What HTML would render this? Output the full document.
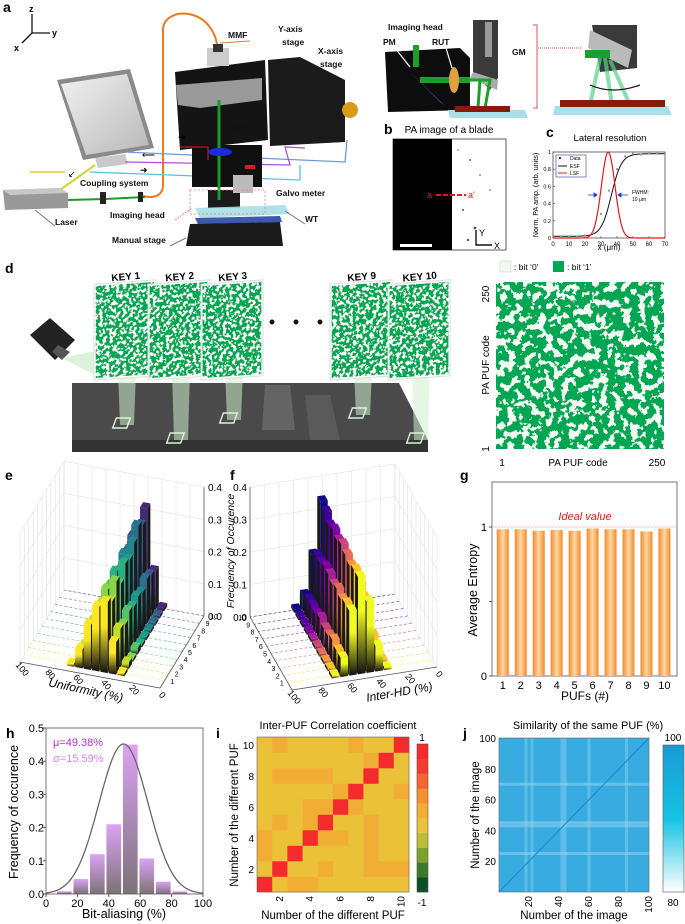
<!DOCTYPE html>
<html><head><meta charset="utf-8"><style>
html,body{margin:0;padding:0;background:#fff}
svg{display:block;font-family:"Liberation Sans",sans-serif}
.pl{font-weight:bold;font-size:14px}
.lb{font-weight:bold;font-size:8.5px;fill:#111}
</style></head><body>
<svg id="fig" width="685" height="924" viewBox="0 0 685 924" xmlns="http://www.w3.org/2000/svg">
<defs>
<filter id="puf" x="0" y="0" width="1" height="1">
<feTurbulence type="fractalNoise" baseFrequency="0.13" numOctaves="3" seed="4" result="n"/>
<feColorMatrix in="n" type="matrix" values="0 0 0 0 0 0 0 0 0 0 0 0 0 0 0 1.1 0 0 0 0" result="a"/>
<feComponentTransfer in="a" result="m"><feFuncA type="discrete" tableValues="0 1"/></feComponentTransfer>
<feFlood flood-color="#00a651" result="g"/>
<feComposite in="g" in2="m" operator="in" result="gb"/>
<feFlood flood-color="#f4fbf2" result="w"/>
<feMerge><feMergeNode in="w"/><feMergeNode in="gb"/></feMerge>
</filter>
<filter id="puf2" x="0" y="0" width="1" height="1">
<feTurbulence type="fractalNoise" baseFrequency="0.3" numOctaves="2" seed="9" result="n"/>
<feColorMatrix in="n" type="matrix" values="0 0 0 0 0 0 0 0 0 0 0 0 0 0 0 1.1 0 0 0 0" result="a"/>
<feComponentTransfer in="a" result="m"><feFuncA type="discrete" tableValues="0 1"/></feComponentTransfer>
<feFlood flood-color="#00a651" result="g"/>
<feComposite in="g" in2="m" operator="in" result="gb"/>
<feFlood flood-color="#ffffff" result="w"/>
<feMerge><feMergeNode in="w"/><feMergeNode in="gb"/></feMerge>
</filter>
<linearGradient id="monG" x1="0" y1="0" x2="1" y2="1"><stop offset="0" stop-color="#f2f2f2"/><stop offset="1" stop-color="#b8b8b8"/></linearGradient>
<linearGradient id="hbar" x1="0" y1="0" x2="0" y2="1"><stop offset="0" stop-color="#dca2f4"/><stop offset="1" stop-color="#7c7278"/></linearGradient>
<linearGradient id="gbar" x1="0" y1="0" x2="1" y2="0"><stop offset="0" stop-color="#f28a2a"/><stop offset="0.5" stop-color="#ffd8a6"/><stop offset="1" stop-color="#f28a2a"/></linearGradient>
<linearGradient id="jcb" x1="0" y1="1" x2="0" y2="0"><stop offset="0" stop-color="#ffffff"/><stop offset="0.5" stop-color="#14c3e2"/><stop offset="1" stop-color="#1a9ad6"/></linearGradient>
</defs>

<!-- ============ PANEL A ============ -->
<g>
<text class="pl" x="3" y="12">a</text>
<g stroke="#111" stroke-width="1.3" fill="none">
<line x1="32" y1="33" x2="32" y2="14"/><line x1="32" y1="33" x2="50" y2="33"/><line x1="32" y1="33" x2="22" y2="43"/>
</g>
<text x="29" y="12" font-size="9" font-weight="bold">z</text><text x="52" y="36" font-size="9" font-weight="bold">y</text><text x="14" y="51" font-size="9" font-weight="bold">x</text>
<path d="M218,55 C218,5 163,5 163,30 L163,185 C163,198 150,198 143,196" fill="none" stroke="#e87b1e" stroke-width="2"/>
<g>
<polygon points="57,80 130,69 154,148 83,160" fill="#8a8a8a"/>
<polygon points="61,84 127,74 149,145 86,155" fill="url(#monG)"/>
<polygon points="95,158 125,154 128,164 98,168" fill="#c9c9c9"/>
</g>
<line x1="95" y1="165" x2="60" y2="190" stroke="#d6d23a" stroke-width="2"/>
<line x1="30" y1="172" x2="65" y2="172" stroke="#d6d23a" stroke-width="1.5"/>
<g fill="none" stroke-width="1.3">
<polyline points="125,152 345,162 347,140" stroke="#6a9ae0"/>
<polyline points="125,162 290,165 285,147 305,148" stroke="#b54ce0"/>
<polyline points="90,172 300,180 300,165" stroke="#4fc9da"/>
</g>
<g>
<polygon points="3,190 60,188 68,193 68,208 5,210" fill="#999"/><polygon points="3,190 60,188 68,193 10,195" fill="#c8c8c8"/>
</g>
<polyline points="68,200 105,199 145,197" stroke="#1a9a2a" stroke-width="2" fill="none"/>
<rect x="100" y="192" width="6" height="12" fill="#222"/><rect x="138" y="192" width="5" height="10" fill="#222"/>
<g>
<polygon points="175,72 265,60 268,140 180,150" fill="#141414"/>
<polygon points="176,85 262,78 262,100 200,108 178,105" fill="#9a9a9a"/>
<polygon points="268,60 300,57 345,80 345,142 270,146" fill="#1b1b1b"/>
<circle cx="350" cy="110" r="8" fill="#d99a1a"/>
<rect x="207" y="48" width="22" height="18" fill="#ccc"/><rect x="213" y="44" width="10" height="8" fill="#333"/>
<rect x="192" y="145" width="70" height="42" fill="#101010"/>
<rect x="208" y="190" width="32" height="18" fill="#1a1a1a"/>
<rect x="233" y="175" width="20" height="18" fill="#bbb"/>
<line x1="219" y1="100" x2="219" y2="200" stroke="#1a9a2a" stroke-width="3"/>
<ellipse cx="220" cy="152" rx="12" ry="4" fill="#1a2ae0"/>
<rect x="245" y="165" width="10" height="4" fill="#e01a1a"/>
<polygon points="195,208 285,205 290,214 200,218" fill="#a8dfe8" opacity="0.9"/>
<polygon points="195,218 280,216 282,222 198,224" fill="#3a5ab0"/>
<polygon points="190,224 280,222 283,246 186,246" fill="#1b1b1b"/>
</g>
<polyline points="180,147 208,147 208,160" stroke="#e01a1a" fill="none" stroke-width="1"/>
<rect x="190" y="190" width="75" height="24" fill="none" stroke="#f08080" stroke-dasharray="2,2" stroke-width="0.8"/>
<g>
<text class="lb" x="228" y="38">MMF</text><line x1="220" y1="43" x2="250" y2="41" stroke="#e87b1e"/>
<text class="lb" x="278" y="32">Y-axis</text><text class="lb" x="282" y="45">stage</text>
<text class="lb" x="318" y="54">X-axis</text><text class="lb" x="320" y="67">stage</text>
<text class="lb" x="230" y="131">AMP</text><text class="lb" x="235" y="159">OL</text>
<text class="lb" x="80" y="186">Coupling system</text>
<text class="lb" x="276" y="196">Galvo meter</text>
<text class="lb" x="55" y="225">Laser</text><line x1="35" y1="210" x2="55" y2="226" stroke="#777"/>
<text class="lb" x="110" y="218">Imaging head</text><line x1="175" y1="220" x2="192" y2="208" stroke="#f08080" stroke-dasharray="2,1"/>
<text class="lb" x="305" y="222">WT</text><line x1="285" y1="211" x2="305" y2="224" stroke="#777"/>
<text class="lb" x="112" y="243">Manual stage</text><line x1="170" y1="246" x2="186" y2="238" stroke="#777"/>
<text x="178" y="140" font-size="9">➜</text><text x="142" y="158" font-size="9">⟵</text><text x="140" y="173" font-size="9">➜</text><text x="68" y="177" font-size="9">↙</text>
</g>
<g>
<text class="lb" x="388" y="30" font-size="8.5">Imaging head</text>
<polygon points="385,52 460,48 470,58 470,110 388,112" fill="#0d0d0d"/>
<polygon points="405,67 440,102 445,106 410,72" fill="#5a5ae0"/>
<rect x="413" y="45" width="6" height="22" fill="#1aa02a"/>
<rect x="420" y="77" width="50" height="6" fill="#1aa02a"/>
<ellipse cx="454" cy="80" rx="5" ry="13" fill="#e0a040"/>
<text class="lb" x="383" y="45">PM</text><text class="lb" x="432" y="45">RUT</text>
<line x1="395" y1="48" x2="410" y2="67" stroke="#fff" stroke-width="1.2"/><line x1="446" y1="48" x2="452" y2="68" stroke="#fff" stroke-width="1.2"/>
<polygon points="473,20 498,20 498,78 490,90 473,72" fill="#3a3a3a"/>
<rect x="485" y="22" width="7" height="35" fill="#999"/>
<polygon points="473,72 498,80 497,90 470,78" fill="#aaa"/>
<text class="lb" x="512" y="55">GM</text>
<path d="M470,80 L490,80 L485,108 M480,80 L478,108" stroke="#1aa02a" stroke-width="3" fill="none"/>
<polygon points="448,110 525,110 528,118 450,118" fill="#a8dfe8"/>
<rect x="455" y="106" width="55" height="6" fill="#8a1a0a"/>
<path d="M533,25 L537,25 L537,108 L533,108" fill="none" stroke="#e05050"/>
<line x1="538" y1="48" x2="582" y2="48" stroke="#e05050" stroke-dasharray="1,1"/>
<polygon points="592,25 637,25 637,68 600,72" fill="#3a3a3a"/>
<polygon points="590,30 632,50 628,68 588,48" fill="#bbb"/>
<rect x="585" y="50" width="25" height="8" fill="#1aa02a"/>
<path d="M600,58 L590,105 M605,58 L612,105 M610,60 L630,105" stroke="#5ad08a" stroke-width="4" opacity="0.7" fill="none"/>
<path d="M590,85 Q612,95 640,85" stroke="#111" fill="none" stroke-width="1.2"/>
<polygon points="555,106 668,106 672,115 553,115" fill="#a8dfe8"/>
<rect x="560" y="100" width="105" height="7" fill="#8a1a0a"/>
</g>
</g>

<!-- ============ PANEL B ============ -->
<g>
<text class="pl" x="384" y="134">b</text>
<text x="449" y="133" font-size="10" text-anchor="middle">PA image of a blade</text>
<rect x="393" y="139" width="113" height="111" fill="#fff" stroke="#333" stroke-width="0.8"/>
<rect x="393" y="139" width="59" height="111" fill="#000"/>
<g fill="#555"><circle cx="470" cy="160" r="1"/><circle cx="480" cy="175" r="0.8"/><circle cx="463" cy="210" r="1"/><circle cx="475" cy="228" r="1.4"/><circle cx="490" cy="190" r="0.8"/><circle cx="468" cy="240" r="1.2"/><circle cx="458" cy="150" r="0.7"/></g>
<line x1="436" y1="195" x2="466" y2="195" stroke="#e01a1a" stroke-width="2" stroke-dasharray="5,2"/>
<text x="427" y="198" font-size="9" fill="#e01a1a">a</text><text x="468" y="198" font-size="9" fill="#e01a1a">a'</text>
<rect x="400" y="244" width="32" height="3" fill="#fff"/>
<path d="M476,230 L476,245 L492,245" stroke="#111" fill="none" stroke-width="1.4"/>
<text x="479" y="236" font-size="9">Y</text><text x="494" y="249" font-size="9">X</text>
</g>

<!-- ============ PANEL C ============ -->
<g id="panelC">
<text class="pl" x="546" y="137">c</text>
<text x="610" y="141" font-size="9.5" text-anchor="middle">Lateral resolution</text>
</g>

<!-- ============ PANEL D ============ -->
<g>
<text class="pl" x="5" y="273">d</text>
<polygon points="72,383 399,383 428,440 72,440" fill="#4a4a4a"/>
<polygon points="72,440 428,440 428,452 72,452" fill="#333"/>
<polygon points="265,385 290,385 295,430 262,430" fill="#777" opacity="0.6"/>
<polygon points="305,395 330,395 340,440 310,440" fill="#666" opacity="0.6"/>
<g><polygon points="30,335 50,318 75,340 55,360" fill="#222"/><polygon points="58,345 70,352 62,360 52,352" fill="#555"/></g>
<polygon points="62,358 100,350 100,378" fill="#b8e6b8" opacity="0.5"/>
<g id="keys"></g>
<g fill="#111"><circle cx="272" cy="322" r="2.5"/><circle cx="296" cy="322" r="2.5"/><circle cx="320" cy="322" r="2.5"/></g>
<rect x="500" y="261" width="11" height="11" fill="#f1f9ee" stroke="#ccc" stroke-width="0.5"/>
<text x="514" y="270" font-size="8.5">: bit ‘0’</text>
<rect x="553" y="261" width="11" height="11" fill="#00a651"/>
<text x="567" y="270" font-size="8.5">: bit ‘1’</text>
<rect x="496" y="282" width="168" height="167" filter="url(#puf)"/>
<text x="0" y="0" font-size="10" transform="translate(489,294) rotate(-90)" text-anchor="middle">250</text>
<text x="0" y="0" font-size="10" transform="translate(489,449) rotate(-90)" text-anchor="middle">1</text>
<text x="0" y="0" font-size="10" transform="translate(489,365) rotate(-90)" text-anchor="middle">PA PUF code</text>
<text x="502" y="466" font-size="10" text-anchor="middle">1</text>
<text x="578" y="466" font-size="10" text-anchor="middle">PA PUF code</text>
<text x="657" y="466" font-size="10" text-anchor="middle">250</text>
</g>

<g id="panelE"><text class="pl" x="5" y="480">e</text></g>
<g id="panelF"><text class="pl" x="230" y="480">f</text></g>
<g id="panelG"><text class="pl" x="460" y="480">g</text></g>
<g id="panelH"><text class="pl" x="6" y="738">h</text></g>
<g id="panelI"><text class="pl" x="216" y="738">i</text>
<text x="338" y="729" font-size="11" text-anchor="middle">Inter-PUF Correlation coefficient</text></g>
<g id="panelJ"><text class="pl" x="463" y="738">j</text>
<text x="588" y="729" font-size="11" text-anchor="middle">Similarity of the same PUF (%)</text></g>
</svg>

<script>
// ---------- DATA ----------
const keyLabels = ["KEY 1","KEY 2","KEY 3","KEY 9","KEY 10"];
const cX = [0,5,10,15,20,25,30,35,40,45,50,55,60,65,70];
const cData = [0.02,0.02,0.02,0.02,0.03,0.06,0.28,0.55,0.8,0.95,0.98,0.97,0.98,0.98,0.98];
const cTicksX = [0,10,20,30,40,50,60,70];
const cTicksY = [0,0.2,0.4,0.6,0.8,1];
const eBins = [30,36,42,48,54,60,66];
const eRows = [1,2,3,4,5,6,7,8,9,10];
const eValues = [
 [0.01,0.1,0.22,0.2,0.14,0.06,0.01],
 [0.02,0.12,0.2,0.19,0.13,0.05,0.0],
 [0.01,0.11,0.24,0.21,0.12,0.05,0.01],
 [0.02,0.13,0.21,0.2,0.13,0.04,0.0],
 [0.01,0.12,0.25,0.22,0.11,0.04,0.01],
 [0.01,0.13,0.24,0.2,0.12,0.04,0.0],
 [0.01,0.12,0.27,0.23,0.11,0.03,0.0],
 [0.01,0.14,0.3,0.22,0.1,0.03,0.0],
 [0.01,0.13,0.28,0.24,0.11,0.03,0.0],
 [0.01,0.12,0.31,0.23,0.09,0.02,0.0]
];
const fBins = [32,38,44,50,56,62,68];
const fValues = [
 [0.01,0.08,0.22,0.3,0.2,0.06,0.01],
 [0.01,0.09,0.21,0.3,0.2,0.06,0.01],
 [0.01,0.08,0.23,0.29,0.19,0.07,0.01],
 [0.01,0.09,0.22,0.3,0.2,0.06,0.01],
 [0.01,0.08,0.23,0.31,0.19,0.06,0.01],
 [0.01,0.09,0.21,0.3,0.2,0.07,0.01],
 [0.01,0.08,0.22,0.31,0.2,0.06,0.01],
 [0.01,0.09,0.23,0.3,0.19,0.06,0.01],
 [0.01,0.08,0.22,0.32,0.19,0.06,0.01],
 [0.01,0.09,0.23,0.33,0.17,0.05,0.01]
];
const eColors = ["#fde725","#c2df23","#86d549","#52c569","#2ab07f","#1e9b8a","#25858e","#2d708e","#38588c","#46287a"];
const fColors = ["#f0f921","#fdc328","#f89441","#e56b5d","#cb4679","#a82296","#7e03a8","#5c01a6","#3a049a","#0d0887"];
const zTicks = [0,0.1,0.2,0.3,0.4];
const uTicks = [0,20,40,60,80,100];
const gPUFs = [1,2,3,4,5,6,7,8,9,10];
const gEntropy = [0.985,0.985,0.975,0.98,0.975,0.99,0.985,0.985,0.97,0.99];
const hCenters = [12,22.5,33,43.5,54,64.5,75,85.5];
const hFreq = [0.008,0.045,0.12,0.21,0.45,0.107,0.037,0.008];
const hMu = 49.38, hSigma = 15.59, hPeak = 0.452;
const hTicksX = [0,20,40,60,80,100];
const hTicksY = [0,0.1,0.2,0.3,0.4,0.5];
const iBase = -0.05, iHigh = 0.15;
const iOrange = [[10,2],[10,7],[9,8],[8,2],[8,3],[8,4],[8,5],[7,6],[7,10],[6,4],[6,5],[6,7],[5,2],[5,4],[5,8],[4,1],[4,5],[4,6],[4,8],[3,1],[3,8],[2,5],[2,8],[2,9],[2,10],[1,3],[1,4]];
const iLevels = ["#0b4f26","#3f7a2c","#7ea02f","#bcbd38","#ebc137","#f2ae34","#f78f31","#f6652e","#f43c2d","#f42a2c"];
const jLightCols = [18,22,42,44,60,85];
const jLightRows = [43,45,70,25];
const jTicks = [20,40,60,80,100];

const NS="http://www.w3.org/2000/svg";
function mk(parent,tag,attrs,text){const e=document.createElementNS(NS,tag);for(const k in attrs)e.setAttribute(k,attrs[k]);if(text!==undefined)e.textContent=text;parent.appendChild(e);return e;}
const defs=document.querySelector('defs');

// ---------- KEYS ----------
const keys=document.getElementById('keys');
const keyX=[96,150,203,332,390];
keyLabels.forEach((k,i)=>{
  const x=keyX[i];
  const beam=mk(keys,'polygon',{points:`${x+22},370 ${x+40},370 ${x+38},${[425,440,420,415,440][i]} ${x+24},${[425,440,420,415,440][i]}`,fill:'#cfeecf',opacity:'0.55'});
  
  
  const fr=mk(keys,'rect',{x:x-2,y:284,width:62,height:96,fill:'#fff',stroke:'#ddd',transform:`skewY(-4) translate(0,${x*0.07})`});
  
  
  const im=mk(keys,'rect',{x:x,y:286,width:58,height:92,filter:'url(#puf2)',transform:`skewY(-4) translate(0,${x*0.07})`});
  
  
  const sq=mk(keys,'rect',{x:x+22,y:[418,433,413,408,433][i],width:14,height:10,fill:'none',stroke:'#d8f5d8','stroke-width':1.5,transform:`skewX(-20) translate(${[418,433,413,408,433][i]*0.36},0)`});
  
  
  const t=mk(keys,'text',{x:x+30,y:280,'font-size':10,'font-weight':'bold','text-anchor':'middle',transform:`rotate(-5 ${x+30} 280)`},k);
  
  
});

// ---------- PANEL C ----------
(function(){
 const g=document.getElementById('panelC');
 const x0=553,x1=665,y0=238,y1=152;
 const X=v=>x0+(v-0)/70*(x1-x0), Y=v=>y0-(v)*(y0-y1);
 mk(g,'rect',{x:x0,y:y1,width:x1-x0,height:y0-y1,fill:'none',stroke:'#333','stroke-width':0.7});
 cTicksX.forEach(t=>{mk(g,'line',{x1:X(t),x2:X(t),y1:y0,y2:y0-2,stroke:'#333','stroke-width':0.6});const tt=mk(g,'text',{x:X(t),y:y0+8,'font-size':6,'text-anchor':'middle'},t);});
 cTicksY.forEach(t=>{mk(g,'line',{x1:x0,x2:x0+2,y1:Y(t),y2:Y(t),stroke:'#333','stroke-width':0.6});const tt=mk(g,'text',{x:x0-2,y:Y(t)+2,'font-size':5.5,'text-anchor':'end'},t);});
 let esf='',lsf='';
 for(let v=0;v<=70;v+=0.5){const e=0.02+0.96/(1+Math.exp(-(v-36.5)/3.2));esf+=(v?'L':'M')+X(v)+','+Y(e);const l=Math.exp(-Math.pow(v-34.5,2)/(2*4.25*4.25));lsf+=(v?'L':'M')+X(v)+','+Y(l);}
 const pe=mk(g,'path',{d:esf,fill:'none',stroke:'#111','stroke-width':1});
 const pl=mk(g,'path',{d:lsf,fill:'none',stroke:'#e01a1a','stroke-width':1.2});
 cX.forEach((v,i)=>{const p=mk(g,'rect',{x:X(v)-1,y:Y(cData[i])-1,width:2,height:2,fill:'#999'});});
 mk(g,'rect',{x:556,y:155,width:30,height:22,fill:'#fff',stroke:'#2a3a9a','stroke-width':0.6});
 mk(g,'rect',{x:559,y:157,width:2,height:2,fill:'#2a3a9a'});mk(g,'text',{x:570,y:160,'font-size':5},'Data');
 mk(g,'line',{x1:558,x2:567,y1:166,y2:166,stroke:'#111'});mk(g,'text',{x:570,y:168,'font-size':5},'ESF');
 mk(g,'line',{x1:558,x2:567,y1:173,y2:173,stroke:'#e01a1a'});mk(g,'text',{x:570,y:175,'font-size':5},'LSF');
 mk(g,'path',{d:'M588,195 L597,195 M597,195 l-3,-2 v4z M618,195 L628,195 M618,195 l3,-2 v4z',stroke:'#1a3ae0',fill:'#1a3ae0','stroke-width':0.8});
 mk(g,'text',{x:632,y:194,'font-size':5},'FWHM:');mk(g,'text',{x:632,y:201,'font-size':5},'10 μm');
 mk(g,'text',{x:609,y:250,'font-size':8,'text-anchor':'middle'},'x (μm)');
 mk(g,'text',{x:0,y:0,'font-size':7.2,'text-anchor':'middle',transform:'translate(538,195) rotate(-90)'},'Norm. PA amp. (arb. units)');
})();

// ---------- 3D BARS ----------
function bars3d(g,bins,values,colors,P,sideAtLow,prefix){
 colors.forEach((c,i)=>{const lg=mk(defs,'linearGradient',{id:prefix+'g'+i,x1:0,y1:0,x2:0,y2:1});mk(lg,'stop',{offset:0,'stop-color':c});mk(lg,'stop',{offset:0.35,'stop-color':c});mk(lg,'stop',{offset:1,'stop-color':'#111'});});
 for(let r=values.length-1;r>=0;r--){
  const row=r+1;
  const a=P(0,row,0),b=P(100,row,0);
  mk(g,'line',{x1:a[0],y1:a[1],x2:b[0],y2:b[1],stroke:colors[r],'stroke-width':0.6,'stroke-dasharray':'3,2',opacity:0.8});
  let order=bins.map((b,j)=>j);
  if(sideAtLow) order.reverse();
  order.forEach(j=>{
   const v=values[r][j]; if(v<=0) return;
   const u0=bins[j]-2.6,u1=bins[j]+2.6,rf=row-0.35,rb=row+0.35;
   const pts=a=>a.map(p=>p.join(',')).join(' ');
   const us=sideAtLow?u0:u1;
   mk(g,'polygon',{points:pts([P(us,rf,0),P(us,rb,0),P(us,rb,v),P(us,rf,v)]),fill:'#1a1a1a'});
   mk(g,'polygon',{points:pts([P(u0,rf,v),P(u1,rf,v),P(u1,rb,v),P(u0,rb,v)]),fill:colors[r]});
   const front=mk(g,'polygon',{points:pts([P(u0,rf,0),P(u1,rf,0),P(u1,rf,v),P(u0,rf,v)]),fill:`url(#${prefix}g${r})`});
   
   
  });
 }
}
(function(){
 const g=document.getElementById('panelE');
 const P=(u,r,z)=>[160-1.4*u+4.4*r, 688-0.26*u-7.2*r-z*322];
 for(let u=0;u<=100;u+=10){const a=P(u,10,0),b=P(u,10,0.4);mk(g,'line',{x1:a[0],y1:a[1],x2:b[0],y2:b[1],stroke:'#e2e2e2','stroke-width':0.6});}
 for(let r=0;r<=10;r+=1){const a=P(100,r,0),b=P(100,r,0.4);mk(g,'line',{x1:a[0],y1:a[1],x2:b[0],y2:b[1],stroke:'#e2e2e2','stroke-width':0.6});}
 zTicks.forEach(z=>{const a=P(0,10,z),b=P(100,10,z),c=P(100,0,z);mk(g,'polyline',{points:`${a} ${b} ${c}`,fill:'none',stroke:'#e2e2e2','stroke-width':0.6});});
 const za=P(0,10,0),zb=P(0,10,0.4);mk(g,'line',{x1:za[0],y1:za[1],x2:zb[0],y2:zb[1],stroke:'#555','stroke-width':0.8});
 zTicks.forEach(z=>{const p=P(0,10,z);const t=mk(g,'text',{x:p[0]+4,y:p[1]+4,'font-size':10},z.toFixed(1));});
 const fa=P(0,0,0),fb=P(100,0,0),fc=P(0,10,0);
 mk(g,'polyline',{points:`${fb} ${fa} ${fc}`,fill:'none',stroke:'#555','stroke-width':0.8});
 bars3d(g,eBins,eValues,eColors,P,true,'e');
 uTicks.forEach(u=>{const p=P(u,0,0);const t=mk(g,'text',{x:p[0],y:p[1]+9,'font-size':9,'text-anchor':'middle',transform:`rotate(50 ${p[0]} ${p[1]+9})`},u);});
 eRows.forEach(r=>{const p=P(0,r,0);const t=mk(g,'text',{x:p[0]+6,y:p[1]+3,'font-size':7},r);});
 const tt=mk(g,'text',{x:85,y:694,'font-size':12,'font-style':'italic','text-anchor':'middle',transform:'rotate(12 85 694)'},'Uniformity (%)');
 
})();
(function(){
 const g=document.getElementById('panelF');
 const P=(u,r,z)=>[292+1.45*(100-u)-4.2*r, 690-0.23*(100-u)-7.3*r-z*325];
 for(let u=0;u<=100;u+=10){const a=P(u,10,0),b=P(u,10,0.4);mk(g,'line',{x1:a[0],y1:a[1],x2:b[0],y2:b[1],stroke:'#e2e2e2','stroke-width':0.6});}
 for(let r=0;r<=10;r+=1){const a=P(0,r,0),b=P(0,r,0.4);mk(g,'line',{x1:a[0],y1:a[1],x2:b[0],y2:b[1],stroke:'#e2e2e2','stroke-width':0.6});}
 zTicks.forEach(z=>{const a=P(100,10,z),b=P(0,10,z),c=P(0,0,z);mk(g,'polyline',{points:`${a} ${b} ${c}`,fill:'none',stroke:'#e2e2e2','stroke-width':0.6});});
 const za=P(100,10,0),zb=P(100,10,0.4);mk(g,'line',{x1:za[0],y1:za[1],x2:zb[0],y2:zb[1],stroke:'#555','stroke-width':0.8});
 zTicks.forEach(z=>{const p=P(100,10,z);const t=mk(g,'text',{x:p[0]-3,y:p[1]+4,'font-size':10,'text-anchor':'end'},z.toFixed(1));});
 const fa=P(100,0,0),fb=P(0,0,0),fc=P(100,10,0);
 mk(g,'polyline',{points:`${fb} ${fa} ${fc}`,fill:'none',stroke:'#555','stroke-width':0.8});
 bars3d(g,fBins,fValues,fColors,P,false,'f');
 uTicks.forEach(u=>{const p=P(u,0,0);const t=mk(g,'text',{x:p[0],y:p[1]+9,'font-size':9,'text-anchor':'middle',transform:`rotate(50 ${p[0]} ${p[1]+9})`},u);});
 eRows.forEach(r=>{const p=P(100,r,0);const t=mk(g,'text',{x:p[0]-4,y:p[1]+3,'font-size':7,'text-anchor':'end'},r);});
 const tt=mk(g,'text',{x:0,y:0,'font-size':10.5,'font-style':'italic','text-anchor':'middle',transform:'translate(234,551) rotate(-90)'},'Frecuency of Occurence');
 
 const tx=mk(g,'text',{x:400,y:696,'font-size':12,'font-style':'italic','text-anchor':'middle',transform:'rotate(-10 400 696)'},'Inter-HD (%)');
 
})();

// ---------- PANEL G ----------
(function(){
 const g=document.getElementById('panelG');
 const x0=492,x1=677,yb=676,yt=482;
 const Y=v=>yb-v*149, X=i=>x0+(i-0.4)*((x1-x0)/10.3);
 mk(g,'rect',{x:x0,y:yt,width:x1-x0,height:yb-yt,fill:'none',stroke:'#555','stroke-width':0.8});
 mk(g,'line',{x1:x0,x2:x1,y1:Y(1),y2:Y(1),stroke:'#f08080','stroke-width':0.6,'stroke-dasharray':'2,1'});
 const iv=mk(g,'text',{x:585,y:520,'font-size':11,'font-style':'italic',fill:'#e01a1a','text-anchor':'middle'},'Ideal value');
 
 gPUFs.forEach((p,i)=>{
  const b=mk(g,'rect',{x:X(p)-6,y:Y(gEntropy[i]),width:12,height:yb-Y(gEntropy[i]),fill:'url(#gbar)'});
  
  const t=mk(g,'text',{x:X(p),y:yb+13,'font-size':11,'text-anchor':'middle'},p);
  
 });
 [[0,'0'],[0.5,''],[1,'1']].forEach(([v,l])=>{mk(g,'line',{x1:x0-3,x2:x0,y1:Y(v),y2:Y(v),stroke:'#555'});mk(g,'text',{x:x0-5,y:Y(v)+4,'font-size':11,'text-anchor':'end'},l);});
 const yt2=mk(g,'text',{x:0,y:0,'font-size':12.5,'text-anchor':'middle',transform:'translate(477,590) rotate(-90)'},'Average Entropy');
 
 const xt=mk(g,'text',{x:585,y:700,'font-size':12,'text-anchor':'middle'},'PUFs (#)');
 
})();

// ---------- PANEL H ----------
(function(){
 const g=document.getElementById('panelH');
 const x0=46,x1=203,yb=894,yt=728;
 const X=v=>x0+v/100*(x1-x0), Y=v=>yb-v/0.5*(yb-yt);
 hCenters.forEach((c,i)=>{
  const b=mk(g,'rect',{x:X(c-5),y:Y(hFreq[i]),width:X(c+5)-X(c-5)-1,height:yb-Y(hFreq[i]),fill:'url(#hbar)'});
  
 });
 let d='';for(let v=0;v<=100;v+=1){const f=hPeak*Math.exp(-Math.pow(v-hMu,2)/(2*hSigma*hSigma));d+=(v?'L':'M')+X(v).toFixed(1)+','+Y(f).toFixed(1);}
 const c=mk(g,'path',{d:d,fill:'none',stroke:'#666','stroke-width':1.3});
 
 mk(g,'rect',{x:x0,y:yt,width:x1-x0,height:yb-yt,fill:'none',stroke:'#555','stroke-width':0.8});
 hTicksX.forEach(t=>{mk(g,'line',{x1:X(t),x2:X(t),y1:yb,y2:yb+3,stroke:'#555'});const tt=mk(g,'text',{x:X(t),y:yb+13,'font-size':11,'text-anchor':'middle'},t);});
 hTicksY.forEach(t=>{mk(g,'line',{x1:x0-3,x2:x0,y1:Y(t),y2:Y(t),stroke:'#555'});const tt=mk(g,'text',{x:x0-2,y:Y(t)+4,'font-size':11,'text-anchor':'end'},t.toFixed(1));});
 mk(g,'text',{x:53,y:746,'font-size':11,fill:'#b030d0'},'μ=49.38%');
 mk(g,'text',{x:53,y:762,'font-size':11,fill:'#d488f0'},'σ=15.59%');
 const yt2=mk(g,'text',{x:0,y:0,'font-size':12.5,'text-anchor':'middle',transform:'translate(18,812) rotate(-90)'},'Frequency of occurence');
 
 const xt=mk(g,'text',{x:124,y:918,'font-size':12.5,'text-anchor':'middle'},'Bit-aliasing (%)');
 
})();

// ---------- PANEL I ----------
(function(){
 const g=document.getElementById('panelI');
 const x0=257,x1=409,yt=737,yb=892,n=10,cw=(x1-x0)/n,ch=(yb-yt)/n;
 const val=(r,c)=>{if(r===c)return 1;for(const p of iOrange)if(p[0]===r&&p[1]===c)return iHigh;return iBase;};
 const col=v=>iLevels[Math.min(9,Math.floor((v+1)/0.2))];
 for(let r=1;r<=n;r++)for(let c=1;c<=n;c++){
  const cell=mk(g,'rect',{x:x0+(c-1)*cw,y:yb-r*ch,width:cw+0.3,height:ch+0.3,fill:col(val(r,c))});
  
 }
 mk(g,'rect',{x:x0,y:yt,width:x1-x0,height:yb-yt,fill:'none',stroke:'#666','stroke-width':0.6});
 [2,4,6,8,10].forEach(t=>{
  const tx=mk(g,'text',{x:0,y:0,'font-size':10,'text-anchor':'end',transform:`translate(${x0+(t-0.5)*cw+3},${yb+4}) rotate(-90)`},t);
  
  const ty=mk(g,'text',{x:x0-3,y:yb-(t-0.5)*ch+4,'font-size':10,'text-anchor':'end'},t);
  
 });
 const cx=417,cwid=11,ct=744,cb=892;
 iLevels.forEach((c,k)=>{const s=mk(g,'rect',{x:cx,y:cb-(k+1)*(cb-ct)/10,width:cwid,height:(cb-ct)/10+0.3,fill:c});});
 mk(g,'rect',{x:cx,y:ct,width:cwid,height:cb-ct,fill:'none',stroke:'#555','stroke-width':0.6});
 mk(g,'text',{x:cx+5,y:741,'font-size':10,'text-anchor':'middle'},'1');
 mk(g,'text',{x:cx+5,y:906,'font-size':10,'text-anchor':'middle'},'-1');
 const yt2=mk(g,'text',{x:0,y:0,'font-size':11.5,'text-anchor':'middle',transform:'translate(238,815) rotate(-90)'},'Number of the different PUF');
 
 const xt=mk(g,'text',{x:333,y:919,'font-size':11.5,'text-anchor':'middle'},'Number of the different PUF');
 
})();

// ---------- PANEL J ----------
(function(){
 const g=document.getElementById('panelJ');
 const x0=499,x1=649,yt=738,yb=892;
 const X=v=>x0+v/100*(x1-x0), Y=v=>yb-v/100*(yb-yt);
 const bg=mk(g,'rect',{x:x0,y:yt,width:x1-x0,height:yb-yt,fill:'#38abe0'});
 
 jLightCols.forEach(c=>{const s=mk(g,'rect',{x:X(c-1),y:yt,width:X(c+1)-X(c-1),height:yb-yt,fill:'#9ad6f0',opacity:0.4});});
 jLightRows.forEach(r=>{const s=mk(g,'rect',{x:x0,y:Y(r+1),width:x1-x0,height:Y(r-1)-Y(r+1),fill:'#9ad6f0',opacity:0.5});});
 const dg=mk(g,'line',{x1:X(0),y1:Y(0),x2:X(100),y2:Y(100),stroke:'#1a8fd0','stroke-width':1.2});
 
 mk(g,'rect',{x:x0,y:yt,width:x1-x0,height:yb-yt,fill:'none',stroke:'#666','stroke-width':0.6});
 jTicks.forEach(t=>{
  const tx=mk(g,'text',{x:0,y:0,'font-size':10,'text-anchor':'end',transform:`translate(${X(t)+3},${yb+4}) rotate(-90)`},t);
  
  const ty=mk(g,'text',{x:x0-3,y:Y(t)+4,'font-size':10,'text-anchor':'end'},t);
  
 });
 const cb=mk(g,'rect',{x:663,y:745,width:21,height:147,fill:'url(#jcb)',stroke:'#555','stroke-width':0.6});
 
 mk(g,'text',{x:673,y:741,'font-size':10,'text-anchor':'middle'},'100');
 mk(g,'text',{x:673,y:906,'font-size':10,'text-anchor':'middle'},'80');
 const yt2=mk(g,'text',{x:0,y:0,'font-size':11.5,'text-anchor':'middle',transform:'translate(479,815) rotate(-90)'},'Number of the image');
 
 const xt=mk(g,'text',{x:574,y:919,'font-size':11.5,'text-anchor':'middle'},'Number of the image');
 
})();
</script>
</body></html>
